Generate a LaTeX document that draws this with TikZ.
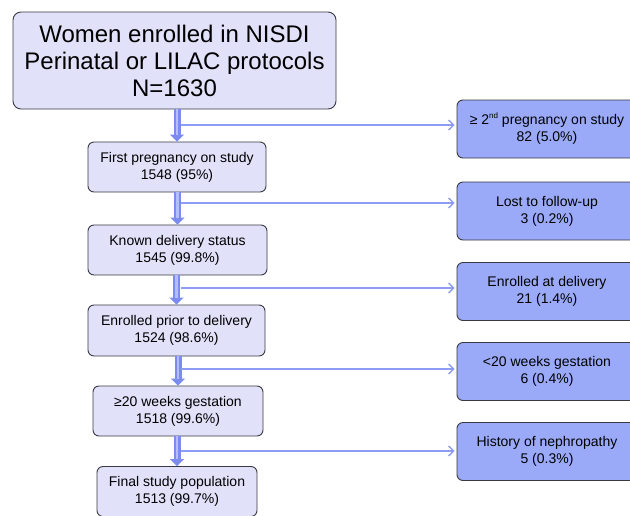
\documentclass[tikz,border=0pt]{standalone}
\usepackage{fontspec}
\setmainfont{Liberation Sans}
\usetikzlibrary{arrows.meta}
\definecolor{lbox}{HTML}{E1E1FA}
\definecolor{rbox}{HTML}{9AAAF9}
\definecolor{edge}{HTML}{3A3A44}
\definecolor{abl}{HTML}{7B8BF0}
\definecolor{alt}{HTML}{B4BEF9}
\definecolor{hbl}{HTML}{8E9CF5}
\tikzset{
  leftbox/.style={draw=edge, line width=0.9pt, fill=lbox, rounded corners=6pt, align=center, inner sep=0pt,
    font=\fontsize{14}{17}\selectfont, minimum height=50pt},
  rightbox/.style={draw=edge, line width=0.9pt, fill=rbox, rounded corners=6pt, align=center, inner sep=0pt,
    font=\fontsize{14}{17}\selectfont, minimum width=180pt, minimum height=58pt},
  vout/.style={line width=7pt, abl, -{Triangle[length=7pt,width=14pt]}},
  vin/.style={line width=2.2pt, alt, shorten >=7pt},
  harr/.style={line width=1.3pt, hbl, -{Straight Barb[length=5pt,width=10pt,line width=1.3pt]}}
}
\begin{document}
\begin{tikzpicture}[x=1pt,y=-1pt]
\useasboundingbox (0,0) rectangle (630,515);
\clip (0,0) rectangle (630,515);
\fill[white] (0,0) rectangle (630,515);
% top box
\node[draw=edge, line width=0.9pt, fill=lbox, rounded corners=8pt, align=center, inner sep=0pt,
  minimum width=323pt, minimum height=97pt, font=\fontsize{24}{27}\selectfont] (top) at (174.5,60.5)
  {Women enrolled in NISDI\\Perinatal or LILAC protocols\\N=1630};
% left boxes
\node[leftbox, minimum width=178pt] (b1) at (177,167) {First pregnancy on study\\1548 (95\%)};
\node[leftbox, minimum width=179pt] (b2) at (177.5,250) {Known delivery status\\1545 (99.8\%)};
\node[leftbox, minimum width=177pt, minimum height=51pt] (b3) at (176.5,330.5) {Enrolled prior to delivery\\1524 (98.6\%)};
\node[leftbox, minimum width=170pt] (b4) at (178,411) {≥20 weeks gestation\\1518 (99.6\%)};
\node[leftbox, minimum width=160pt] (b5) at (177,491.5) {Final study population\\1513 (99.7\%)};
% right boxes
\node[rightbox] (r1) at (547,129) {≥ 2\raisebox{6pt}{\fontsize{8}{8}\selectfont nd} pregnancy on study\\82 (5.0\%)};
\node[rightbox] (r2) at (547,211) {Lost to follow-up\\3 (0.2\%)};
\node[rightbox] (r3) at (547,291.5) {Enrolled at delivery\\21 (1.4\%)};
\node[rightbox] (r4) at (547,371.5) {<20 weeks gestation\\6 (0.4\%)};
\node[rightbox] (r5) at (547,451.5) {History of nephropathy\\5 (0.3\%)};
% vertical arrows
\foreach \a/\b in {top/b1,b1/b2,b2/b3,b3/b4,b4/b5}{
  \draw[vout] (\b.north |- \a.south) -- (\b.north);
  \draw[vin] (\b.north |- \a.south) -- (\b.north);
}
% junctions on vertical arrows
\coordinate (j1) at (180.5,125);
\coordinate (j2) at (180.5,203);
\coordinate (j3) at (180.5,288);
\coordinate (j4) at (180.5,369);
\coordinate (j5) at (180.5,451);
\foreach \i in {1,...,5}{
  \draw[harr] (j\i) -- ([xshift=-2pt]j\i -| r\i.west);
}
\end{tikzpicture}
\end{document}
